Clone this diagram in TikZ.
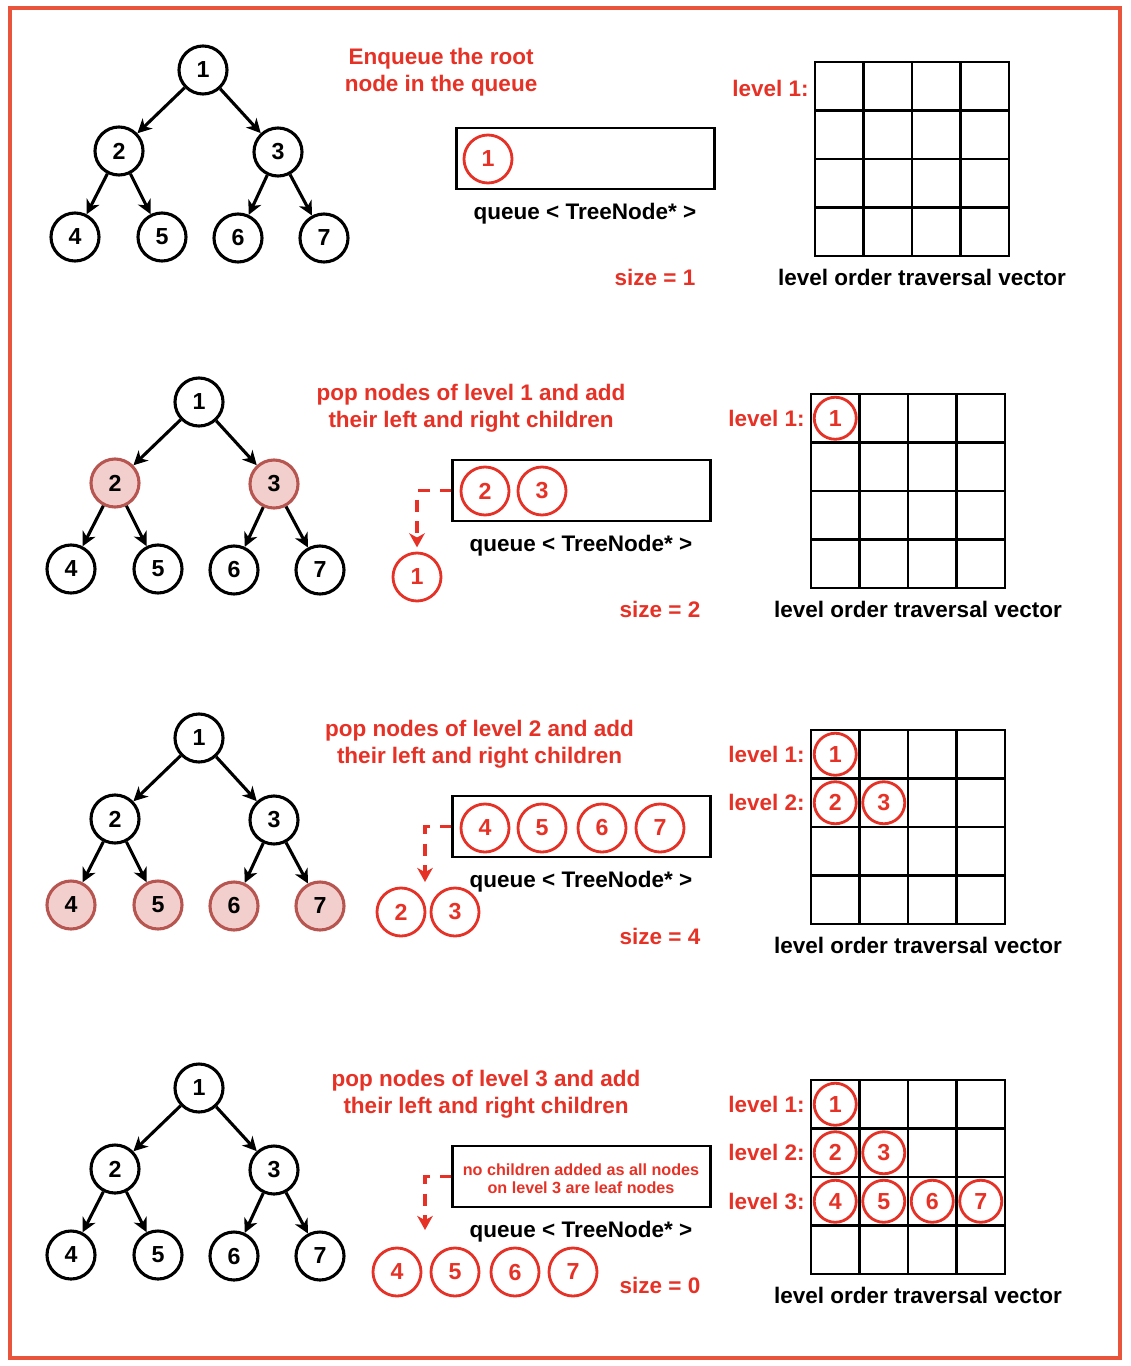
\documentclass[tikz,border=0pt]{standalone}
\usepackage{fontspec}
\setmainfont{Liberation Sans}
\usepackage{tikz}
\usetikzlibrary{arrows.meta,positioning}
\definecolor{framered}{RGB}{233,84,60}
\definecolor{textred}{RGB}{230,50,38}
\definecolor{visitfill}{RGB}{242,207,204}
\definecolor{visitdraw}{RGB}{183,85,80}
\newcommand{\numfont}{\fontsize{16.5}{19.2}\selectfont\bfseries}
\newcommand{\txtfont}{\fontsize{16}{19.2}\selectfont\bfseries}
\newcommand{\notefont}{\fontsize{11.5}{13}\selectfont\bfseries}
\tikzset{
  tnode/.style={circle,draw=black,line width=2.2pt,fill=white,minimum size=1.2cm,inner sep=0pt,font=\numfont},
  visited/.style={fill=visitfill,draw=visitdraw},
  qnode/.style={circle,draw=textred,line width=2pt,minimum size=1.2cm,inner sep=0pt,text=textred,font=\numfont},
  gnode/.style={qnode,minimum size=1.05cm},
  tedge/.style={line width=2.2pt,-{Stealth[length=10pt,width=10pt,inset=3pt]}},
  deq/.style={draw=textred,line width=2.8pt,dash pattern=on 8.5pt off 7pt,-{Stealth[length=10pt,width=11pt,inset=3pt]}},
  qbox/.style={draw,line width=2.1pt,minimum width=6.425cm,minimum height=1.525cm,inner sep=0pt},
  redlbl/.style={text=textred,font=\txtfont,align=center},
  blklbl/.style={font=\txtfont},
  lvl/.style={redlbl,anchor=east,inner sep=0pt},
  gridline/.style={line width=2pt,line cap=rect},
}
% binary tree: #1 name prefix, #2 style of level 2, #3 style of level 3
\newcommand{\bintree}[3]{%
  \node[tnode] (#1a) at (199,70) {1};
  \node[tnode,#2] (#1b) at (115,151) {2};
  \node[tnode,#2] (#1c) at (274,152) {3};
  \node[tnode,#3] (#1d) at (71,237) {4};
  \node[tnode,#3] (#1e) at (158,237) {5};
  \node[tnode,#3] (#1f) at (234,238) {6};
  \node[tnode,#3] (#1g) at (320,238) {7};
  \draw[tedge] (#1a) -- (#1b);
  \draw[tedge] (#1a) -- (#1c);
  \draw[tedge] (#1b) -- (#1d);
  \draw[tedge] (#1b) -- (#1e);
  \draw[tedge] (#1c) -- (#1f);
  \draw[tedge] (#1c) -- (#1g);
}
% 4x4 level order traversal vector
\newcommand{\travgrid}[1]{%
  \foreach \i in {0,...,4} {
    \draw[gridline] ({811+48.5*\i},62) -- ({811+48.5*\i},256);
    \draw[gridline] (811,{62+48.5*\i}) -- (1005,{62+48.5*\i});
  }
  \node[blklbl] (#1vec) at (918,277) {level order traversal vector};
}

\begin{document}
\begin{tikzpicture}[x=0.025cm,y=-0.025cm]
  \useasboundingbox (0,0) rectangle (1130,1366);
  \draw[framered,line width=3pt] (10,8) rectangle (1120,1358);

  % step 1: root goes in
  \begin{scope}[shift={(4,0)}]
    \bintree{pa}{}{}
    \node[redlbl] (pahead) at (437,72) {Enqueue the root\\node in the queue};
    \node[qbox] (pabox) at (581.5,158.5) {};
    \node[qnode] (paq1) at (484,159) {1};
    \node[blklbl] (paqlbl) at (581,214) {queue < TreeNode* >};
    \node[redlbl] (pasize) at (651,277) {size = 1};
    \travgrid{pa}
    \node[lvl] (palv1) at (805,88) {level 1:};
  \end{scope}

  % step 2: level 1
  \begin{scope}[shift={(0,332)}]
    \bintree{pb}{visited}{}
    \node[redlbl] (pbhead) at (471,76.5) {pop nodes of level 1 and add\\their left and right children};
    \node[qbox] (pbbox) at (581.5,158.5) {};
    \node[qnode] (pbq2) at (485,159) {2};
    \node[qnode] (pbq3) at (542,159) {3};
    \node[qnode] (pbd1) at (417,245) {1};
    \draw[deq,shorten >=3pt] (pbbox.west) -| (pbd1.north);
    \node[blklbl] (pbqlbl) at (581,214) {queue < TreeNode* >};
    \node[redlbl] (pbsize) at (660,277) {size = 2};
    \travgrid{pb}
    \node[lvl] (pblv1) at (805,86) {level 1:};
    \node[gnode] (pbg1) at (835.25,86.25) {1};
  \end{scope}

  % step 3: level 2
  \begin{scope}[shift={(0,668)}]
    \bintree{pc}{}{visited}
    \node[redlbl] (pchead) at (479.5,76.5) {pop nodes of level 2 and add\\their left and right children};
    \node[qbox] (pcbox) at (581.5,158.5) {};
    \foreach \n/\x in {4/485,5/542,6/602,7/660}
      \node[qnode] (pcq\n) at (\x,160) {\n};
    \node[qnode] (pcd2) at (401,244) {2};
    \node[qnode] (pcd3) at (455,244) {3};
    \coordinate (pcdrop) at (425,214);
    \draw[deq] (pcbox.west) -| (pcdrop);
    \node[blklbl] (pcqlbl) at (581,214) {queue < TreeNode* >};
    \node[redlbl] (pcsize) at (660,268) {size = 4};
    \travgrid{pc}
    \foreach \r in {1,2}
      \node[lvl] (pclv\r) at (805,{62+48.5*(\r-0.5)}) {level \r:};
    \foreach \n/\c/\r in {1/1/1,2/1/2,3/2/2}
      \node[gnode] (pcg\n) at ({811+48.5*(\c-0.5)},{62+48.5*(\r-0.5)}) {\n};
  \end{scope}

  % step 4: level 3
  \begin{scope}[shift={(0,1018)}]
    \bintree{pd}{}{}
    \node[redlbl] (pdhead) at (486,76.5) {pop nodes of level 3 and add\\their left and right children};
    \node[qbox] (pdbox) at (581.5,158.5) {};
    \node[text=textred,font=\notefont,align=center] (pdnote) at (581,161)
      {no children added as all nodes\\on level 3 are leaf nodes};
    \foreach \n/\x in {4/397,5/455,6/515,7/573}
      \node[qnode] (pdd\n) at (\x,254) {\n};
    \coordinate (pddrop) at (425,212);
    \draw[deq] (pdbox.west) -| (pddrop);
    \node[blklbl] (pdqlbl) at (581,214) {queue < TreeNode* >};
    \node[redlbl] (pdsize) at (660,267) {size = 0};
    \travgrid{pd}
    \foreach \r in {1,2,3}
      \node[lvl] (pdlv\r) at (805,{62+48.5*(\r-0.5)}) {level \r:};
    \foreach \n/\c/\r in {1/1/1,2/1/2,3/2/2,4/1/3,5/2/3,6/3/3,7/4/3}
      \node[gnode] (pdg\n) at ({811+48.5*(\c-0.5)},{62+48.5*(\r-0.5)}) {\n};
  \end{scope}
\end{tikzpicture}
\end{document}
